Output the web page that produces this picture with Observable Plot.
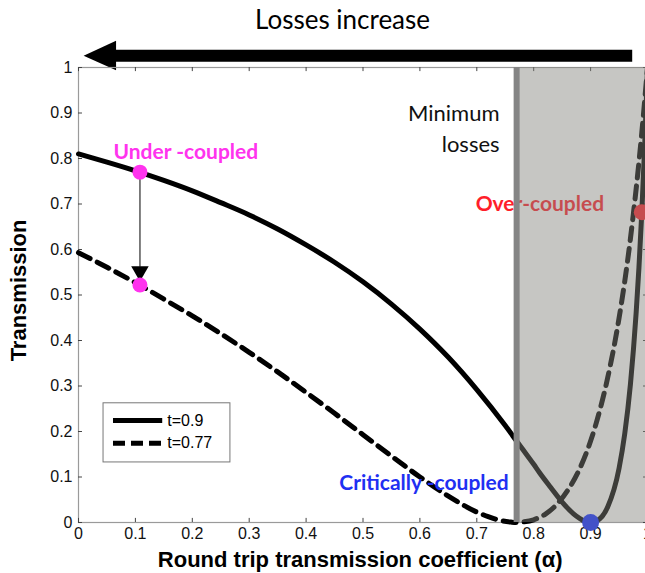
<!DOCTYPE html>
<html>
<head>
<meta charset="utf-8">
<script src="https://cdn.jsdelivr.net/npm/d3@7"></script>
<script src="https://cdn.jsdelivr.net/npm/@observablehq/plot@0.6"></script>
<style>
  html, body { margin: 0; padding: 0; background: #fff; }
</style>
</head>
<body>
<div id="chart"></div>
<script>
// ---- data ----
const alphaSolid = [0, 0.05, 0.1, 0.15, 0.2, 0.25, 0.3, 0.35, 0.4, 0.45, 0.5, 0.55, 0.6, 0.65, 0.7, 0.75, 0.77, 0.78, 0.8, 0.81, 0.83, 0.85, 0.87, 0.89, 0.9, 0.91, 0.93, 0.95, 0.96, 0.97, 0.98, 0.985, 0.99, 0.995, 1.0];
const tSolid     = [0.81, 0.792, 0.773, 0.752, 0.729, 0.703, 0.676, 0.645, 0.610, 0.572, 0.529, 0.480, 0.425, 0.363, 0.292, 0.213, 0.179, 0.162, 0.128, 0.110, 0.077, 0.045, 0.019, 0.003, 0.0, 0.003, 0.034, 0.119, 0.195, 0.304, 0.460, 0.561, 0.682, 0.826, 1.0];

const alphaDashed = [0, 0.05, 0.1, 0.15, 0.2, 0.25, 0.3, 0.35, 0.4, 0.45, 0.5, 0.55, 0.6, 0.65, 0.7, 0.72, 0.74, 0.76, 0.77, 0.78, 0.8, 0.82, 0.84, 0.86, 0.88, 0.9, 0.91, 0.93, 0.95, 0.97, 0.99, 1.0];
const tDashed     = [0.593, 0.561, 0.527, 0.491, 0.454, 0.415, 0.374, 0.331, 0.286, 0.240, 0.193, 0.146, 0.100, 0.058, 0.023, 0.013, 0.005, 0.001, 0.0, 0.001, 0.006, 0.018, 0.039, 0.071, 0.116, 0.179, 0.219, 0.318, 0.449, 0.624, 0.857, 1.0];

const xTicks = [0, 0.1, 0.2, 0.3, 0.4, 0.5, 0.6, 0.7, 0.8, 0.9, 1];
const yTicks = [0, 0.1, 0.2, 0.3, 0.4, 0.5, 0.6, 0.7, 0.8, 0.9, 1];
const legendLabels = ["t=0.9", "t=0.77"];

// annotation points (alpha, T)
const underAlpha = 0.108;
const underTop = 0.770;
const underBottom = 0.522;
const criticalPoint = {a: 0.9, t: 0.0};
const overPoint = {a: 0.99, t: 0.682};
const minLossAlpha = 0.77;

// ---- build tables ----
const solid = alphaSolid.map((a, i) => ({a, t: tSolid[i]}));
const dashed = alphaDashed.map((a, i) => ({a, t: tDashed[i]}));

const fmt = d => String(+d.toFixed(1));
const annFont = "Lato, 'Open Sans', sans-serif";
const axFont = "'Liberation Sans', Arial, Helvetica, sans-serif";

const chart = Plot.plot({
  width: 645,
  height: 573,
  marginTop: 67,
  marginBottom: 51,
  marginLeft: 78,
  marginRight: -2,
  style: {fontFamily: axFont, fontSize: "15px", color: "#111", background: "#fff", overflow: "visible"},
  x: {domain: [0, 1]},
  y: {domain: [0, 1]},
  marks: [
    // top annotation arrow ("Losses increase")
    Plot.text(["Losses increase"], {x: 0.464, y: 1.103, fontFamily: annFont, fontSize: 26, fill: "#000"}),
    Plot.ruleY([1.026], {x1: 0.06, x2: 0.974, stroke: "#000", strokeWidth: 12}),
    Plot.line([{a: 0.009, t: 1.026}, {a: 0.066, t: 1.059}, {a: 0.066, t: 0.994}, {a: 0.009, t: 1.026}],
      {x: "a", y: "t", fill: "#000", stroke: "none"}),

    // frame and inward ticks
    Plot.frame({stroke: "#9a9a9a", strokeWidth: 1.2}),
    Plot.ruleX(xTicks, {x: d => d, y1: 0, y2: 0.009, stroke: "#444"}),
    Plot.ruleX(xTicks, {x: d => d, y1: 0.991, y2: 1, stroke: "#444"}),
    Plot.ruleY(yTicks, {y: d => d, x1: 0, x2: 0.007, stroke: "#444"}),
    Plot.ruleY(yTicks, {y: d => d, x1: 0.993, x2: 1, stroke: "#444"}),
    Plot.axisX(xTicks, {tickSize: 0, tickPadding: 5, tickFormat: fmt, label: null, fontSize: 16}),
    Plot.axisY(yTicks, {tickSize: 0, tickPadding: 6, tickFormat: fmt, label: null, fontSize: 16}),
    Plot.text(["Round trip transmission coefficient (α)"], {x: 0.495, y: -0.083, fontWeight: "bold", fontSize: 22, fill: "#000"}),
    Plot.text(["Transmission"], {x: -0.105, y: 0.51, rotate: -90, fontWeight: "bold", fontSize: 22, fill: "#000"}),

    // labels under the shaded overlay
    Plot.text(["Over-coupled"], {x: 0.698, y: 0.699, textAnchor: "start", fontFamily: annFont, fontWeight: "bold", fontSize: 21, fill: "#ff1e2a"}),

    // curves
    Plot.line(solid, {x: "a", y: "t", stroke: "#000", strokeWidth: 5, curve: "monotone-x"}),
    Plot.line(dashed, {x: "a", y: "t", stroke: "#000", strokeWidth: 5, strokeDasharray: "13,8", curve: "monotone-x"}),
    Plot.dot([overPoint], {x: "a", y: "t", r: 8, fill: "#ff1e2a", stroke: "none"}),

    // shaded minimum-loss region (overlay)
    Plot.rect([{x1: minLossAlpha, x2: 1, y1: 0, y2: 1}], {x1: "x1", x2: "x2", y1: "y1", y2: "y2", fill: "#82827c", fillOpacity: 0.46}),
    Plot.ruleX([minLossAlpha], {y1: 0, y2: 1, stroke: "#858585", strokeWidth: 6}),

    // critically coupled point
    Plot.dot([criticalPoint], {x: "a", y: "t", r: 8.5, fill: "#4352c8", stroke: "none"}),

    // under-coupled points and arrow
    Plot.link([{a: underAlpha, t1: underTop, t2: underBottom + 0.04}], {x1: "a", x2: "a", y1: "t1", y2: "t2", stroke: "#555", strokeWidth: 1.5}),
    Plot.dot([{a: underAlpha, t: underBottom + 0.03}], {x: "a", y: "t", symbol: "triangle", rotate: 180, r: 6.5, fill: "#000", stroke: "none"}),
    Plot.dot([{a: underAlpha, t: underTop}, {a: underAlpha, t: underBottom}], {x: "a", y: "t", r: 7.5, fill: "#ff33ee", stroke: "none"}),

    // text annotations
    Plot.text(["Under -coupled"], {x: 0.0615, y: 0.813, textAnchor: "start", fontFamily: annFont, fontWeight: "bold", fontSize: 21, fill: "#ff33ee"}),
    Plot.text(["Critically -coupled"], {x: 0.756, y: 0.086, textAnchor: "end", fontFamily: annFont, fontWeight: "bold", fontSize: 21, fill: "#1f30f2"}),
    Plot.text(["Minimum"], {x: 0.74, y: 0.897, textAnchor: "end", fontFamily: annFont, fontSize: 22, fill: "#111"}),
    Plot.text(["losses"], {x: 0.74, y: 0.829, textAnchor: "end", fontFamily: annFont, fontSize: 22, fill: "#111"}),

    // legend box
    Plot.rect([{x1: 0.044, x2: 0.267, y1: 0.132, y2: 0.262}], {x1: "x1", x2: "x2", y1: "y1", y2: "y2", fill: "#fff", stroke: "#777", strokeWidth: 1}),
    Plot.ruleY([0.224], {x1: 0.0615, x2: 0.148, stroke: "#000", strokeWidth: 5}),
    Plot.ruleY([0.174], {x1: 0.0615, x2: 0.148, stroke: "#000", strokeWidth: 5, strokeDasharray: "12,6"}),
    Plot.text([{label: legendLabels[0], t: 0.224}, {label: legendLabels[1], t: 0.174}], {x: 0.156, y: "t", text: "label", textAnchor: "start", fontSize: 16, fill: "#000"})
  ]
});

document.getElementById("chart").appendChild(chart);
</script>
</body>
</html>
